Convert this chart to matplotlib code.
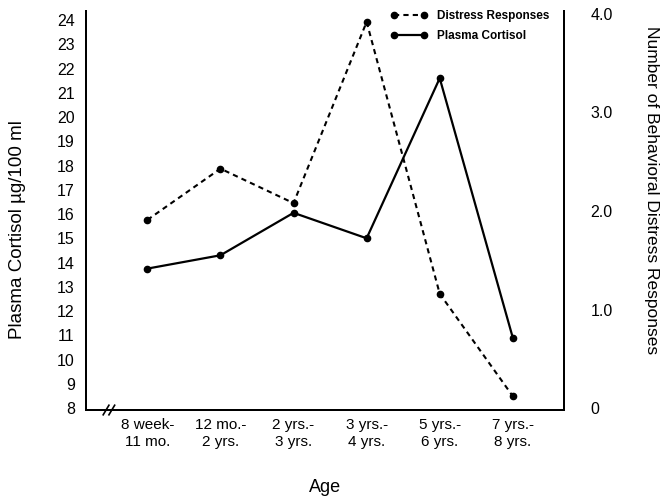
import matplotlib
matplotlib.use("Agg")
import matplotlib.pyplot as plt

plt.rcParams['font.family'] = ['Liberation Sans', 'DejaVu Sans']

# age groups
ages = ['8 week-\n11 mo.', '12 mo.-\n2 yrs.', '2 yrs.-\n3 yrs.',
        '3 yrs.-\n4 yrs.', '5 yrs.-\n6 yrs.', '7 yrs.-\n8 yrs.']
# plasma cortisol, ug/100 ml (left axis)
cortisol = [13.75, 14.3, 16.05, 15.0, 21.6, 10.9]
# number of behavioral distress responses (right axis)
distress = [1.91, 2.43, 2.08, 3.92, 1.16, 0.12]

x = list(range(len(ages)))

fig = plt.figure(figsize=(6.66, 5.01), dpi=100)
ax = fig.add_axes([0.1291, 0.1816, 0.7177, 0.7964])
ax2 = ax.twinx()

l1, = ax.plot(x, cortisol, color='black', lw=1.6, marker='o', ms=4.5,
              label='Plasma Cortisol')
l2, = ax2.plot(x, distress, color='black', lw=1.5, ls=(0, (2.5, 2)),
               marker='o', ms=4.5, label='Distress Responses')

ax.set_xlim(-0.84, 5.70)
ax.set_ylim(7.92, 24.37)
ax2.set_ylim(-0.02, 4.03)

ax.set_yticks(range(8, 25))
ax.set_yticklabels([str(v) for v in range(8, 25)])
ax2.set_yticks([0, 1, 2, 3, 4])
ax2.set_yticklabels(['0', '1.0', '2.0', '3.0', '4.0'])
ax.set_xticks(x)
ax.set_xticklabels(ages)

ax.tick_params(axis='y', length=0, pad=8, labelsize=11.5)
ax2.tick_params(axis='y', length=0, pad=19, labelsize=11.5)
ax.tick_params(axis='x', length=0, pad=6, labelsize=11)

for a in (ax, ax2):
    a.spines['top'].set_visible(False)
    for s in ('left', 'right', 'bottom'):
        a.spines[s].set_linewidth(1.4)

# axis titles placed where the reference has them
fig.text(18 / 666, 1 - 230 / 501, 'Plasma Cortisol µg/100 ml', fontsize=13.5,
         rotation=90, ha='center', va='center')
fig.text(652 / 666, 1 - 190 / 501, 'Number of Behavioral Distress Responses',
         fontsize=12.5, rotation=-90, ha='center', va='center')
fig.text(325 / 666, 1 - 487 / 501, 'Age', fontsize=13,
         ha='center', va='center')

# axis break mark
for dx in (0.0, 0.012):
    ax.plot([0.036 + dx, 0.048 + dx], [-0.012, 0.012], transform=ax.transAxes,
            color='black', lw=1.2, clip_on=False)

fig.legend([l2, l1], ['Distress Responses', 'Plasma Cortisol'],
           loc='upper left', bbox_to_anchor=(0.578, 0.992), frameon=False,
           numpoints=2, handlelength=3.1, handletextpad=0.8, labelspacing=0.7,
           borderpad=0, prop={'size': 8.5, 'weight': 'bold'})

fig.savefig('out.png', dpi=100)
